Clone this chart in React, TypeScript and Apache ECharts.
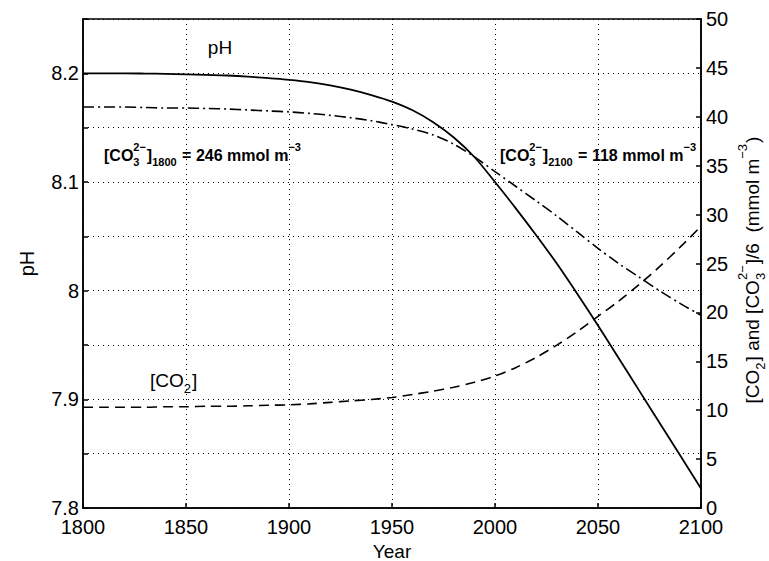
import React, { useEffect, useRef } from "react";
import * as echarts from "echarts";

const years = [1800, 1810, 1820, 1830, 1840, 1850, 1860, 1870, 1880, 1890, 1900, 1910, 1920, 1930, 1940, 1950, 1960, 1970, 1980, 1990, 2000, 2010, 2020, 2030, 2040, 2050, 2060, 2070, 2080, 2090, 2100];
const phValues = [8.2, 8.2, 8.2, 8.1998, 8.1995, 8.199, 8.1985, 8.198, 8.197, 8.1955, 8.194, 8.192, 8.189, 8.185, 8.18, 8.174, 8.166, 8.155, 8.141, 8.123, 8.1, 8.076, 8.051, 8.025, 7.997, 7.968, 7.938, 7.908, 7.878, 7.848, 7.818];
const co2Values = [10.3, 10.3, 10.3, 10.3, 10.35, 10.35, 10.4, 10.4, 10.45, 10.5, 10.55, 10.65, 10.8, 10.95, 11.1, 11.3, 11.6, 11.95, 12.35, 12.85, 13.5, 14.35, 15.4, 16.65, 18.05, 19.6, 21.15, 22.85, 24.7, 26.7, 28.8];
const co3Over6Values = [41.0, 41.0, 41.0, 40.95, 40.9, 40.9, 40.85, 40.8, 40.7, 40.6, 40.5, 40.35, 40.15, 39.9, 39.6, 39.2, 38.75, 38.15, 37.2, 35.9, 34.4, 32.9, 31.4, 29.85, 28.2, 26.55, 25.0, 23.6, 22.2, 20.9, 19.7];

const FONT = "'Liberation Sans', Arial, Helvetica, sans-serif";

const pair = (vals: number[]) => years.map((y, i) => [y, vals[i]]);

type Seg = { t?: string; sup?: string; sub?: string };

let measureCtx: CanvasRenderingContext2D | null = null;
function measure(text: string, font: string): number {
  if (!measureCtx) measureCtx = document.createElement("canvas").getContext("2d");
  if (!measureCtx) return text.length * 8;
  measureCtx.font = font;
  return measureCtx.measureText(text).width;
}

function buildText(segs: Seg[], size: number, weight: string, centered: boolean) {
  const small = Math.round(size * 0.7);
  const fBig = `${weight} ${size}px ${FONT}`;
  const fSmall = `${weight} ${small}px ${FONT}`;
  const children: any[] = [];
  let x = 0;
  for (const s of segs) {
    if (s.t !== undefined) {
      children.push({ type: "text", x, y: 0, style: { text: s.t, font: fBig, fill: "#000", align: "left", verticalAlign: "middle" } });
      x += measure(s.t, fBig);
    } else {
      let w = 0;
      if (s.sup) {
        children.push({ type: "text", x, y: -size * 0.52, style: { text: s.sup, font: fSmall, fill: "#000", align: "left", verticalAlign: "middle" } });
        w = Math.max(w, measure(s.sup, fSmall));
      }
      if (s.sub) {
        children.push({ type: "text", x, y: size * 0.45, style: { text: s.sub, font: fSmall, fill: "#000", align: "left", verticalAlign: "middle" } });
        w = Math.max(w, measure(s.sub, fSmall));
      }
      x += w + 1;
    }
  }
  if (centered) {
    const half = x / 2;
    for (const c of children) c.x -= half;
  }
  return children;
}

export default function App() {
  const ref = useRef<HTMLDivElement>(null);
  useEffect(() => {
    if (!ref.current) return;
    const chart = echarts.init(ref.current, null, { renderer: "svg" });
    const gridLine = { show: true, lineStyle: { color: "#000", width: 1, type: [1, 4] as any } };
    const option: any = {
      animation: false,
      backgroundColor: "#fff",
      grid: {
        left: 83,
        right: 68,
        top: 19,
        bottom: 53,
        show: true,
        borderColor: "#000",
        borderWidth: 1.5,
        backgroundColor: "transparent",
        containLabel: false,
        outerBoundsMode: "none",
      },
      xAxis: {
        type: "value",
        min: 1800,
        max: 2100,
        interval: 50,
        axisLine: { show: true, lineStyle: { color: "#000", width: 1.5 } },
        axisTick: { show: true, inside: true, length: 5, lineStyle: { color: "#000", width: 1.5 } },
        axisLabel: { color: "#000", fontSize: 20, lineHeight: 20, fontFamily: FONT, margin: 9, formatter: (v: number) => String(v) },
        splitLine: gridLine,
        name: "Year",
        nameLocation: "middle",
        nameGap: 29,
        nameTextStyle: { color: "#000", fontSize: 19, fontFamily: FONT },
      },
      yAxis: [
        {
          type: "value",
          min: 7.8,
          max: 8.25,
          interval: 0.05,
          position: "left",
          axisLine: { show: true, lineStyle: { color: "#000", width: 1.5 } },
          axisTick: { show: true, inside: true, length: 5, lineStyle: { color: "#000", width: 1.5 } },
          axisLabel: {
            color: "#000",
            fontSize: 20,
            lineHeight: 16,
            fontFamily: FONT,
            margin: 4,
            formatter: (v: number) => {
              const r = Math.round(v * 10) / 10;
              if (Math.abs(v - r) < 1e-6 && v < 8.24) return String(r);
              return "";
            },
          },
          splitLine: gridLine,
          name: "pH",
          nameLocation: "middle",
          nameGap: 46,
          nameTextStyle: { color: "#000", fontSize: 20, fontFamily: FONT },
        },
        {
          type: "value",
          min: 0,
          max: 50,
          interval: 5,
          position: "right",
          axisLine: { show: true, lineStyle: { color: "#000", width: 1.5 } },
          axisTick: { show: true, inside: true, length: 5, lineStyle: { color: "#000", width: 1.5 } },
          axisLabel: { color: "#000", fontSize: 20, lineHeight: 16, fontFamily: FONT, margin: 5 },
          splitLine: { show: false },
        },
      ],
      series: [
        {
          name: "pH",
          type: "line",
          yAxisIndex: 0,
          data: pair(phValues),
          smooth: 0.3,
          showSymbol: false,
          lineStyle: { color: "#000", width: 1.8, type: "solid" },
        },
        {
          name: "CO2",
          type: "line",
          yAxisIndex: 1,
          data: pair(co2Values),
          smooth: 0.3,
          showSymbol: false,
          lineStyle: { color: "#000", width: 1.6, type: [10, 6] },
        },
        {
          name: "CO3/6",
          type: "line",
          yAxisIndex: 1,
          data: pair(co3Over6Values),
          smooth: 0.3,
          showSymbol: false,
          lineStyle: { color: "#000", width: 1.6, type: [11, 4, 2, 4] },
        },
      ],
      graphic: [
        {
          type: "text",
          x: 220,
          y: 47,
          style: { text: "pH", font: `19px ${FONT}`, fill: "#000", align: "center", verticalAlign: "middle" },
        },
        {
          type: "group",
          x: 150,
          y: 380,
          children: buildText([{ t: "[CO" }, { sub: "2" }, { t: "]" }], 19, "normal", false),
        },
        {
          type: "group",
          x: 104,
          y: 155,
          children: buildText(
            [{ t: "[CO" }, { sup: "2−", sub: "3" }, { t: "]" }, { sub: "1800" }, { t: " = 246 mmol m" }, { sup: "−3" }],
            16,
            "bold",
            false
          ),
        },
        {
          type: "group",
          x: 500,
          y: 155,
          children: buildText(
            [{ t: "[CO" }, { sup: "2−", sub: "3" }, { t: "]" }, { sub: "2100" }, { t: " = 118 mmol m" }, { sup: "−3" }],
            16,
            "bold",
            false
          ),
        },
        {
          type: "group",
          x: 752,
          y: 270,
          rotation: Math.PI / 2,
          children: buildText(
            [{ t: "[CO" }, { sub: "2" }, { t: "] and [CO" }, { sup: "2−", sub: "3" }, { t: "]/6  (mmol m" }, { sup: "−3" }, { t: ")" }],
            19,
            "normal",
            true
          ),
        },
      ],
    };
    chart.setOption(option);
    return () => chart.dispose();
  }, []);
  return <div ref={ref} style={{ position: "fixed", left: 0, top: 0, width: 769, height: 561, background: "#fff" }} />;
}
